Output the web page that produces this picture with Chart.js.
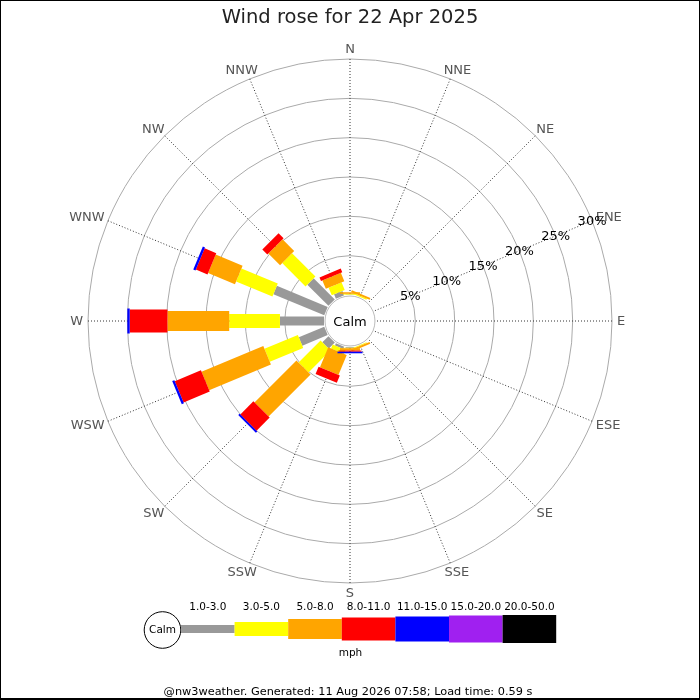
<!DOCTYPE html>
<html>
<head>
<meta charset="utf-8">
<script src="https://cdn.jsdelivr.net/npm/chart.js@4.4.1/dist/chart.umd.min.js"></script>
<style>
html,body{margin:0;padding:0;background:#fff;}
canvas{display:block;}
</style>
</head>
<body>
<canvas id="c" width="700" height="700"></canvas>
<script>
// ---------- DATA ----------
const TITLE = 'Wind rose for 22 Apr 2025';
const FOOTER = '@nw3weather. Generated: 11 Aug 2026 07:58; Load time: 0.59 s';
const UNITS = 'mph';
const CALM_LABEL = 'Calm';
const DIRECTIONS = ['N','NNE','NE','ENE','E','ESE','SE','SSE','S','SSW','SW','WSW','W','WNW','NW','NNW'];
const SPEED_BINS = ['1.0-3.0','3.0-5.0','5.0-8.0','8.0-11.0','11.0-15.0','15.0-20.0','20.0-50.0'];
// percent of time per direction for each speed bin
//                   N     NNE   NE ENE E  ESE SE  SSE   S     SSW   SW    WSW   W     WNW   NW    NNW
const SPEED_1_3   = [0.05, 0,    0, 0,  0, 0,  0,  0,    0.10, 0.30, 1.10, 3.50, 5.60, 7.00, 3.80, 0.60];
const SPEED_3_5   = [0.10, 0.15, 0, 0,  0, 0,  0,  0.10, 0.05, 0.55, 3.95, 4.60, 6.45, 5.00, 4.20, 1.05];
const SPEED_5_8   = [0.20, 0.25, 0, 0,  0, 0,  0,  0.25, 0.30, 2.75, 7.55, 8.50, 7.85, 3.70, 2.10, 1.15];
const SPEED_8_11  = [0,    0,    0, 0,  0, 0,  0,  0,    0.15, 1.00, 2.35, 3.60, 4.80, 1.60, 0.90, 0.50];
const SPEED_11_15 = [0,    0,    0, 0,  0, 0,  0,  0,    0.20, 0,    0.25, 0.30, 0.30, 0.30, 0,    0];
const SPEED_15_20 = [0,    0,    0, 0,  0, 0,  0,  0,    0,    0,    0,    0,    0,    0,    0,    0];
const SPEED_20_50 = [0,    0,    0, 0,  0, 0,  0,  0,    0,    0,    0,    0,    0,    0,    0,    0];
const PCT_TICKS = [5, 10, 15, 20, 25, 30];

// ---------- STYLE ----------
const FONT = "'DejaVu Sans', 'Liberation Sans', sans-serif";
const COLORS = ['#999999', '#ffff00', '#ffa500', '#ff0000', '#0000ff', '#a020f0', '#000000'];
const BAR_WIDTHS = [9, 14, 20, 23, 25, 27, 28];
const LEGEND_HEIGHTS = [8, 14, 20, 23, 25, 27, 28];
const SERIES = [SPEED_1_3, SPEED_3_5, SPEED_5_8, SPEED_8_11, SPEED_11_15, SPEED_15_20, SPEED_20_50];
const SCALE_MIN = -3.305; // leaves room for the calm circle
const SCALE_MAX = 30;

// cumulative stacks
const CUMULATIVE = [];
(function () {
  let run = DIRECTIONS.map(() => 0);
  SERIES.forEach(s => {
    run = run.map((v, i) => Math.round((v + s[i]) * 10000) / 10000);
    CUMULATIVE.push(run);
  });
})();

const windPlugin = {
  id: 'windrose',
  beforeDatasetsDraw(chart) {
    const r = chart.scales.r;
    const ctx = chart.ctx;
    ctx.save();
    ctx.beginPath();
    ctx.arc(r.xCenter, r.yCenter, r.getDistanceFromCenterForValue(0) - 1, 0, Math.PI * 2);
    ctx.fillStyle = '#ffffff';
    ctx.fill();
    ctx.lineWidth = 1;
    ctx.strokeStyle = '#bbbbbb';
    ctx.stroke();
    ctx.restore();
  },
  afterDatasetsDraw(chart) {
    const r = chart.scales.r;
    const ctx = chart.ctx;
    ctx.save();
    ctx.lineCap = 'butt';
    chart.data.datasets.forEach((ds, c) => {
      const meta = chart.getDatasetMeta(c);
      const prevMeta = c > 0 ? chart.getDatasetMeta(c - 1) : null;
      meta.data.forEach((pt, i) => {
        const prevVal = c > 0 ? chart.data.datasets[c - 1].data[i] : 0;
        if (ds.data[i] - prevVal <= 0) return;
        const start = prevMeta ? prevMeta.data[i] : r.getPointPositionForValue(i, 0);
        ctx.beginPath();
        ctx.lineWidth = BAR_WIDTHS[c];
        ctx.strokeStyle = COLORS[c];
        ctx.moveTo(start.x, start.y);
        ctx.lineTo(pt.x, pt.y);
        ctx.stroke();
      });
    });
    ctx.restore();
  },
  afterDraw(chart) {
    const r = chart.scales.r;
    const ctx = chart.ctx;
    ctx.save();
    // direction labels
    ctx.font = '13px ' + FONT;
    ctx.fillStyle = '#555555';
    ctx.textAlign = 'center';
    ctx.textBaseline = 'middle';
    DIRECTIONS.forEach((lab, i) => {
      const p = r.getPointPosition(i, r.drawingArea + 5);
      const th = i * Math.PI * 2 / DIRECTIONS.length;
      const w = ctx.measureText(lab).width;
      ctx.fillText(lab, p.x + Math.sin(th) * w / 2, p.y - Math.cos(th) * 5 + 0.5);
    });
    // percent labels along ENE
    ctx.fillStyle = '#000000';
    PCT_TICKS.forEach(v => {
      const p = r.getPointPositionForValue(3, v);
      ctx.fillText(v + '%', p.x, p.y + 0.5);
    });
    // calm text
    ctx.fillText(CALM_LABEL, r.xCenter, r.yCenter + 1.5);

    // legend
    const lx0 = 181, segW = 53.6, ly = 629;
    ctx.beginPath();
    ctx.arc(162.5, 630, 18.3, 0, Math.PI * 2);
    ctx.fillStyle = '#fff';
    ctx.fill();
    ctx.lineWidth = 1;
    ctx.strokeStyle = '#000';
    ctx.stroke();
    ctx.font = '10.5px ' + FONT;
    ctx.fillStyle = '#000';
    ctx.fillText(CALM_LABEL, 162.5, 630.5);
    SPEED_BINS.forEach((lab, c) => {
      const x = lx0 + c * segW;
      const h = LEGEND_HEIGHTS[c];
      ctx.fillStyle = COLORS[c];
      ctx.fillRect(x, ly - h / 2, segW, h);
      ctx.fillStyle = '#000';
      ctx.fillText(lab, x + segW / 2, 607.5);
    });
    ctx.fillText(UNITS, 350.5, 653);
    // footer
    ctx.font = '11.3px ' + FONT;
    ctx.fillText(FOOTER, 348, 692);
    // frame
    ctx.fillStyle = '#000';
    ctx.fillRect(0, 0, 700, 1);
    ctx.fillRect(0, 0, 1, 700);
    ctx.fillRect(699, 0, 1, 700);
    ctx.fillRect(0, 698, 700, 2);
    ctx.restore();
  }
};

new Chart(document.getElementById('c'), {
  type: 'radar',
  data: {
    labels: DIRECTIONS,
    datasets: SERIES.map((s, c) => ({
      label: SPEED_BINS[c],
      data: CUMULATIVE[c],
      showLine: false,
      fill: false,
      pointRadius: 0,
      pointHoverRadius: 0,
      borderWidth: 0,
      borderColor: 'rgba(0,0,0,0)',
      backgroundColor: 'rgba(0,0,0,0)'
    }))
  },
  options: {
    responsive: false,
    animation: false,
    events: [],
    layout: { padding: { left: 88, right: 88, top: 0, bottom: 117 } },
    font: { family: FONT },
    elements: { line: { fill: false } },
    plugins: {
      legend: { display: false },
      tooltip: { enabled: false },
      filler: { propagate: false },
      title: {
        display: true,
        text: TITLE,
        color: '#222222',
        font: { family: FONT, size: 19.5, weight: 'normal' },
        padding: { top: 6, bottom: 29.6 }
      }
    },
    scales: {
      r: {
        min: SCALE_MIN,
        max: SCALE_MAX,
        bounds: 'data',
        startAngle: 0,
        afterBuildTicks: (scale) => { scale.ticks = PCT_TICKS.map(v => ({ value: v })); },
        ticks: { display: false },
        pointLabels: { display: false },
        grid: { circular: true, color: '#aaaaaa', lineWidth: 1 },
        angleLines: { display: true, color: '#333333', lineWidth: 1, borderDash: [1, 2] }
      }
    }
  },
  plugins: [windPlugin]
});
</script>
</body>
</html>
